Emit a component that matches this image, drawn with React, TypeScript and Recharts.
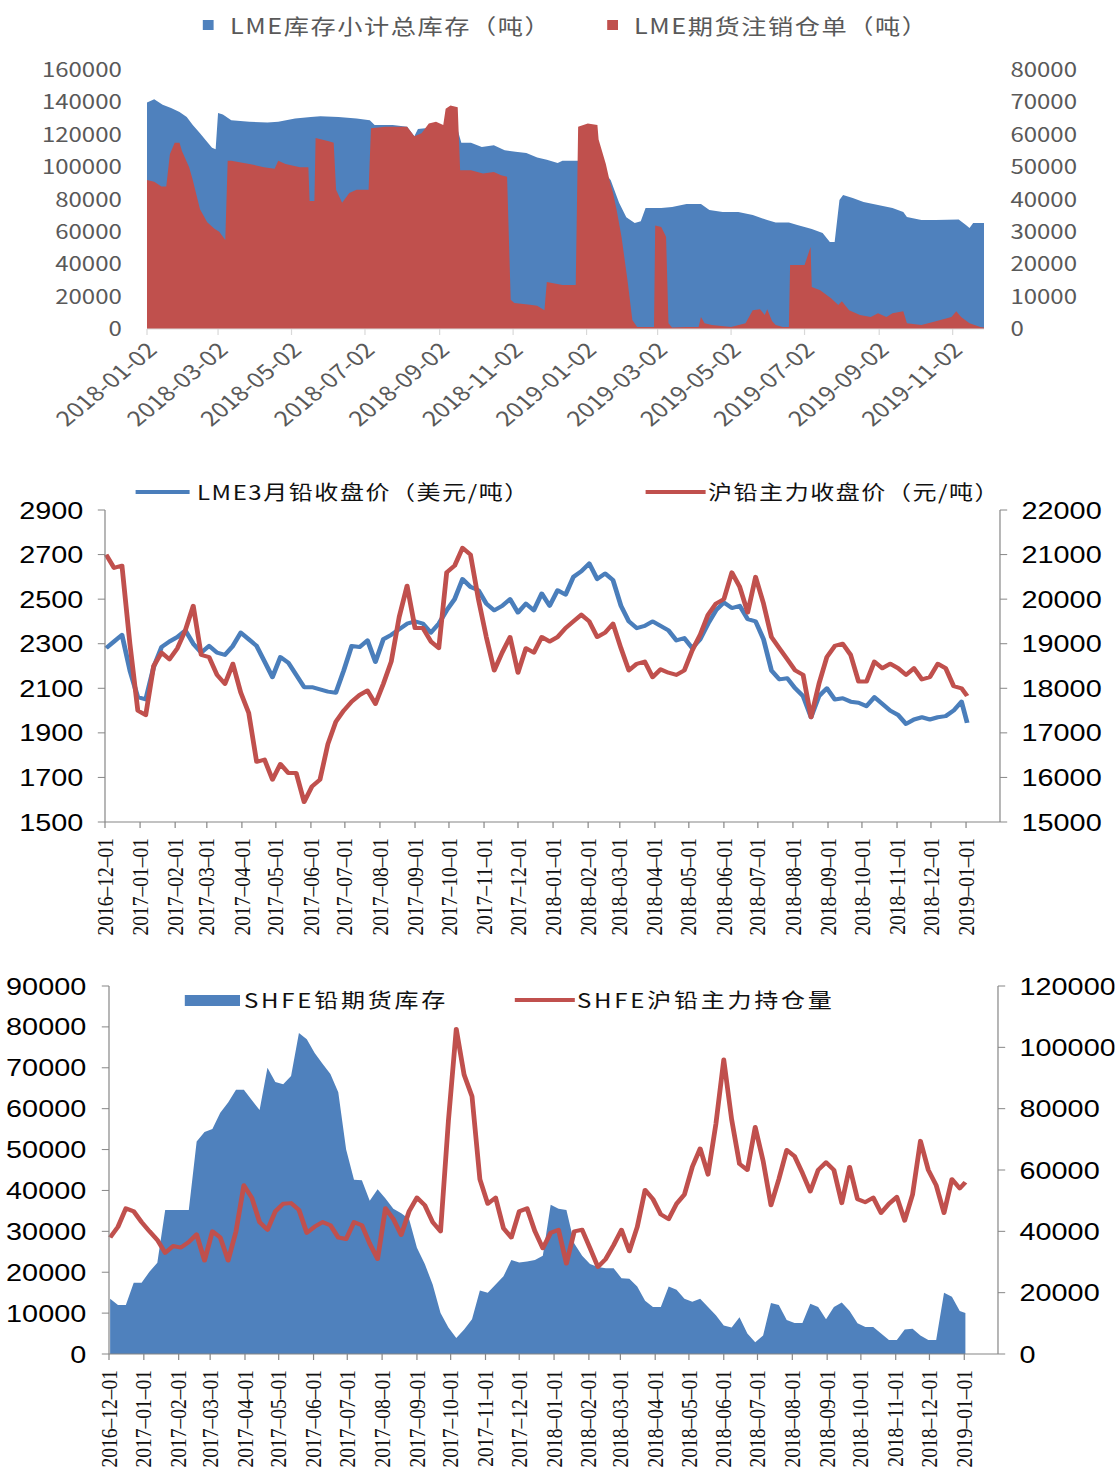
import React from 'react';
import { ComposedChart, Area, Line, XAxis, YAxis } from 'recharts';

// horizontal stretch of the reference picture
const S = 1.2;
const W = 1115 / S;
const toT = (d: string) => Date.parse(d + 'T00:00:00Z');

// ---------------- Chart 1: LME stocks ----------------
const chart1Names = ['LME库存小计总库存（吨）', 'LME期货注销仓单（吨）'];
const lmeStockDates = [
  '2018-01-02','2018-01-08','2018-01-15','2018-01-22','2018-01-29','2018-02-04','2018-02-09','2018-02-15','2018-02-21','2018-02-25',
  '2018-02-28','2018-03-02','2018-03-06','2018-03-13','2018-03-28','2018-04-12','2018-04-21','2018-05-05','2018-05-18','2018-05-26',
  '2018-06-10','2018-06-25','2018-07-06','2018-07-10','2018-07-25','2018-08-06','2018-08-12','2018-08-15','2018-08-21','2018-09-17',
  '2018-09-20','2018-09-28','2018-10-07','2018-10-17','2018-10-26','2018-11-04','2018-11-13','2018-11-22','2018-11-30','2018-12-09',
  '2018-12-13','2018-12-26','2019-01-14','2019-01-22','2019-01-29','2019-02-04','2019-02-11','2019-02-16','2019-02-20','2019-03-05',
  '2019-03-14','2019-03-26','2019-04-07','2019-04-14','2019-04-25','2019-05-08','2019-05-20','2019-06-01','2019-06-08','2019-06-19',
  '2019-06-26','2019-07-08','2019-07-17','2019-07-23','2019-07-27','2019-07-31','2019-08-03','2019-08-11','2019-08-20','2019-09-01',
  '2019-09-13','2019-09-22','2019-09-25','2019-10-07','2019-10-19','2019-11-07','2019-11-13','2019-11-16','2019-11-19','2019-11-28',
];
const lmeStockValues = [
  140000,142000,138500,136500,134000,131000,126000,121000,115500,112000,
  111000,133500,132500,129000,128000,127500,128000,130000,131000,131500,
  131000,130000,129000,126000,126000,125000,119000,123500,124000,123000,
  115000,115000,112500,113500,110500,109500,108700,106000,104500,102500,
  104000,104000,99000,92000,78000,69000,65500,66500,74700,74700,
  75400,77200,77200,73500,72300,72300,70400,67300,65800,65800,
  64300,61800,59300,53700,53700,79700,82800,81000,78500,76600,
  74700,72300,69200,67300,67300,67600,64300,62400,65500,65500,
];
const lmeCancelDates = [
  '2018-01-02','2018-01-08','2018-01-14','2018-01-18','2018-01-21','2018-01-25','2018-01-29','2018-01-31','2018-02-06','2018-02-09',
  '2018-02-11','2018-02-15','2018-02-21','2018-02-27','2018-03-03','2018-03-08','2018-03-10','2018-03-13','2018-03-28','2018-04-09',
  '2018-04-18','2018-04-21','2018-04-27','2018-05-09','2018-05-16','2018-05-17','2018-05-21','2018-05-22','2018-06-02','2018-06-06',
  '2018-06-08','2018-06-13','2018-06-19','2018-06-25','2018-07-05','2018-07-07','2018-07-19','2018-07-31','2018-08-06','2018-08-12',
  '2018-08-18','2018-08-24','2018-08-30','2018-09-05','2018-09-07','2018-09-11','2018-09-17','2018-09-19','2018-09-28','2018-10-08',
  '2018-10-17','2018-10-23','2018-10-28','2018-10-31','2018-11-03','2018-11-16','2018-11-22','2018-11-28','2018-11-30','2018-12-13',
  '2018-12-24','2018-12-26','2019-01-03','2019-01-11','2019-01-12','2019-01-18','2019-01-21','2019-01-24','2019-01-27','2019-01-31',
  '2019-02-05','2019-02-09','2019-02-13','2019-02-27','2019-02-28','2019-03-05','2019-03-09','2019-03-11','2019-03-14','2019-03-26',
  '2019-04-05','2019-04-07','2019-04-10','2019-04-16','2019-05-02','2019-05-14','2019-05-20','2019-05-26','2019-05-30','2019-06-01',
  '2019-06-05','2019-06-08','2019-06-14','2019-06-19','2019-06-20','2019-07-02','2019-07-07','2019-07-08','2019-07-15','2019-07-24',
  '2019-07-30','2019-08-02','2019-08-08','2019-08-17','2019-08-26','2019-09-01','2019-09-08','2019-09-13','2019-09-22','2019-09-25',
  '2019-10-07','2019-10-19','2019-11-01','2019-11-05','2019-11-09','2019-11-16','2019-11-25','2019-11-28',
];
const lmeCancelValues = [
  46000,45500,44000,44000,54000,57500,57500,55000,50000,46000,
  43000,37000,33000,31000,30000,27500,52000,52000,51000,50000,
  49500,52000,51000,50000,50000,39500,39500,59000,58000,57500,
  43000,39000,42000,43000,43000,62000,62500,62500,62500,59500,
  60500,63500,64000,63000,68000,69000,68500,49000,49000,48000,
  48500,47500,47000,9000,8000,7500,7200,5800,14500,13600,
  13600,62500,63500,63000,58500,51000,46000,42000,36700,28500,
  15000,2800,600,600,32000,31500,28500,1800,500,600,
  600,3700,1800,1200,600,1800,5800,6100,4300,6100,
  2500,1200,600,600,19800,19800,25300,13000,12000,9500,
  7400,8600,5800,4300,3700,4900,3700,4900,5500,1800,
  1200,2400,3700,5500,3700,1800,600,500,
];
const chart1Ticks = ['2018-01-02','2018-03-02','2018-05-02','2018-07-02','2018-09-02','2018-11-02','2019-01-02','2019-03-02','2019-05-02','2019-07-02','2019-09-02','2019-11-02'];
const chart1LeftTicks = [0, 20000, 40000, 60000, 80000, 100000, 120000, 140000, 160000];
const chart1RightTicks = [0, 10000, 20000, 30000, 40000, 50000, 60000, 70000, 80000];

// ---------------- Charts 2 & 3: weekly series ----------------
const weekDates = [
  '2016-12-02','2016-12-09','2016-12-16','2016-12-23','2016-12-30',
  '2017-01-06','2017-01-13','2017-01-20','2017-01-27','2017-02-03','2017-02-10','2017-02-17','2017-02-24',
  '2017-03-03','2017-03-10','2017-03-17','2017-03-24','2017-03-31','2017-04-07','2017-04-14','2017-04-21','2017-04-28',
  '2017-05-05','2017-05-12','2017-05-19','2017-05-26','2017-06-02','2017-06-09','2017-06-16','2017-06-23','2017-06-30',
  '2017-07-07','2017-07-14','2017-07-21','2017-07-28','2017-08-04','2017-08-11','2017-08-18','2017-08-25',
  '2017-09-01','2017-09-08','2017-09-15','2017-09-22','2017-09-29','2017-10-06','2017-10-13','2017-10-20','2017-10-27',
  '2017-11-03','2017-11-10','2017-11-17','2017-11-24','2017-12-01','2017-12-08','2017-12-15','2017-12-22','2017-12-29',
  '2018-01-05','2018-01-12','2018-01-19','2018-01-26','2018-02-02','2018-02-09','2018-02-16','2018-02-23',
  '2018-03-02','2018-03-09','2018-03-16','2018-03-23','2018-03-30','2018-04-06','2018-04-13','2018-04-20','2018-04-27',
  '2018-05-04','2018-05-11','2018-05-18','2018-05-25','2018-06-01','2018-06-08','2018-06-15','2018-06-22','2018-06-29',
  '2018-07-06','2018-07-13','2018-07-20','2018-07-27','2018-08-03','2018-08-10','2018-08-17','2018-08-24','2018-08-31',
  '2018-09-07','2018-09-14','2018-09-21','2018-09-28','2018-10-05','2018-10-12','2018-10-19','2018-10-26',
  '2018-11-02','2018-11-09','2018-11-16','2018-11-23','2018-11-30','2018-12-07','2018-12-14','2018-12-21','2018-12-28',
  '2019-01-02',
];
const chart2Names = ['LME3月铅收盘价（美元/吨）', '沪铅主力收盘价（元/吨）'];
const lme3Close = [
  2280,2310,2340,2180,2060,2050,2195,2285,2310,2330,
  2360,2300,2260,2290,2260,2250,2290,2350,2320,2290,
  2220,2150,2240,2215,2160,2105,2105,2095,2085,2080,
  2180,2290,2285,2315,2218,2320,2340,2365,2390,2400,
  2390,2350,2390,2450,2500,2590,2555,2540,2480,2450,
  2470,2500,2440,2480,2450,2525,2470,2540,2520,2600,
  2625,2660,2590,2615,2585,2470,2400,2370,2380,2400,
  2380,2360,2315,2325,2280,2320,2390,2450,2485,2460,
  2470,2410,2400,2320,2180,2140,2145,2100,2065,1970,
  2065,2100,2050,2055,2040,2035,2020,2060,2030,2000,
  1980,1940,1960,1970,1960,1970,1975,2000,2040,1945,
];
const shfeClose = [
  21000,20700,20750,19000,17500,17400,18500,18800,18650,18900,
  19300,19850,18750,18700,18300,18100,18550,17900,17450,16350,
  16400,15950,16300,16100,16100,15450,15800,15950,16750,17250,
  17500,17700,17850,17950,17650,18100,18600,19600,20300,19350,
  19350,19050,18900,20600,20750,21150,21000,20000,19150,18400,
  18800,19150,18350,18900,18800,19150,19050,19150,19350,19500,
  19650,19500,19150,19250,19450,18900,18400,18550,18600,18250,
  18425,18350,18300,18400,18850,19200,19650,19900,20000,20600,
  20275,19700,20500,19900,19150,18900,18650,18400,18300,17350,
  18100,18700,18950,19000,18750,18150,18150,18600,18450,18550,
  18450,18300,18450,18200,18250,18550,18450,18050,18000,17825,
];
const chart2LeftTicks = [1500, 1700, 1900, 2100, 2300, 2500, 2700, 2900];
const chart2RightTicks = [15000, 16000, 17000, 18000, 19000, 20000, 21000, 22000];

const chart3Names = ['SHFE铅期货库存', 'SHFE沪铅主力持仓量'];
const shfeStock = [
  13500,12000,12000,17400,17400,20100,22300,35200,35200,35200,
  35200,52000,54300,55000,59000,61500,64600,64600,62100,59700,
  70000,66500,66000,68000,78500,77000,73600,71000,68500,64000,
  50000,42600,42500,37500,40300,38000,35500,34400,33000,26000,
  22000,17000,10000,6500,3900,6000,8500,15500,15000,17000,
  19000,23000,22400,22600,23000,24000,36500,35500,35200,27000,
  24000,22000,21300,21000,21000,18500,18400,16500,13000,11500,
  11500,16500,15700,13500,12800,13500,11500,9500,7000,6500,
  9000,5000,2900,4500,12500,12000,8300,7600,7600,12300,
  11500,8500,11500,12600,10500,7500,6600,6600,5000,3400,
  3400,6000,6200,4500,3400,3400,15000,14000,10500,10000,
];
const shfeOpenInterest = [
  38000,41500,47500,46500,43000,40000,37200,33000,35200,34700,
  36500,39000,30500,40000,38000,30500,40000,55000,51000,43000,
  40500,46500,49000,49200,47000,39500,41500,43000,42000,38000,
  37500,43000,42000,36000,31000,47500,44000,38800,46500,51000,
  48500,43000,40000,76000,106000,91000,84000,57000,49000,51000,
  41000,38000,46500,47500,40000,34500,39500,40500,29500,40000,
  40500,34500,28400,31000,35500,40500,33500,41400,53500,50500,
  45500,44000,49000,52000,61000,67000,58500,75000,96000,76500,
  62000,60000,74000,63000,48500,57000,66500,64500,59000,53000,
  60000,62500,60000,49200,61000,50500,49500,51000,46000,49000,
  51200,43500,52000,69500,60000,55000,46000,57000,54000,56000,
];
const chart3LeftTicks = [0, 10000, 20000, 30000, 40000, 50000, 60000, 70000, 80000, 90000];
const chart3RightTicks = [0, 20000, 40000, 60000, 80000, 100000, 120000];

const monthTicks = [
  '2016-12-01','2017-01-01','2017-02-01','2017-03-01','2017-04-01','2017-05-01','2017-06-01','2017-07-01','2017-08-01',
  '2017-09-01','2017-10-01','2017-11-01','2017-12-01','2018-01-01','2018-02-01','2018-03-01','2018-04-01','2018-05-01',
  '2018-06-01','2018-07-01','2018-08-01','2018-09-01','2018-10-01','2018-11-01','2018-12-01','2019-01-01',
];

// ---------------- colours ----------------
const BLUE = '#4f81bd';
const RED = '#c0504d';
const AXIS = '#868686';

// ---------------- data tables ----------------
const c1map = new Map<number, any>();
lmeStockDates.forEach((d, i) => {
  const t = toT(d);
  c1map.set(t, { ...(c1map.get(t) || { t }), stock: lmeStockValues[i] });
});
lmeCancelDates.forEach((d, i) => {
  const t = toT(d);
  c1map.set(t, { ...(c1map.get(t) || { t }), cancel: lmeCancelValues[i] });
});
const chart1Data = Array.from(c1map.values()).sort((a, b) => a.t - b.t);
const chart2Data = weekDates.map((d, i) => ({ t: toT(d), lme: lme3Close[i], shfe: shfeClose[i] }));
const chart3Data = weekDates.map((d, i) => ({ t: toT(d), stock: shfeStock[i], oi: shfeOpenInterest[i] }));

const labelFor = (labels: string[], v: number) => labels.find((l) => toT(l) === v) || '';

const TickDiag = (p: any) => {
  const { x, y, payload } = p;
  const ax = x + 3;
  return (
    <text x={ax} y={y} transform={`rotate(-45 ${ax} ${y})`} textAnchor="end" dominantBaseline="central"
      fontSize={21} fill="#595959" fontFamily="'Noto Sans CJK SC', 'Noto Sans', sans-serif">
      {labelFor(chart1Ticks, payload.value)}
    </text>
  );
};

const TickVert = (p: any) => {
  const { x, y, payload } = p;
  const txt = labelFor(monthTicks, payload.value).replace(/-/g, '–');
  return (
    <text x={x} y={y} transform={`rotate(-90 ${x} ${y})`} textAnchor="end" dominantBaseline="central"
      fontSize={19.5} fill="#111" fontFamily="'Liberation Serif', serif">
      {txt}
    </text>
  );
};

const Swatch = ({ x1, x2, cy, h, color }: any) => (
  <div style={{ position: 'absolute', left: x1 / S, top: cy - h / 2, width: (x2 - x1) / S, height: h, background: color }} />
);
const LegendText = ({ x, cy, text, size, color, ls }: any) => (
  <div style={{ position: 'absolute', left: x / S, top: cy - 20, height: 40, lineHeight: '40px', fontSize: size, color,
    letterSpacing: ls, whiteSpace: 'nowrap', fontFamily: "'Noto Sans CJK SC', 'Noto Sans', sans-serif" }}>{text}</div>
);

const sansTick = (size: number, fill: string) => ({ fontSize: size, fill, fontFamily: "'Liberation Sans', Arial, sans-serif" });
const cjkTick = { fontSize: 20, fill: '#595959', fontFamily: "'Noto Sans CJK SC', 'Noto Sans', sans-serif" };

const Chart1 = () => (
  <ComposedChart width={W} height={445} data={chart1Data} margin={{ top: 70, right: 0, bottom: 0, left: 0 }}>
    <XAxis dataKey="t" type="number" domain={[toT('2018-01-02'), toT('2019-11-28')]} ticks={chart1Ticks.map(toT)}
      interval={0} height={116} axisLine={{ stroke: '#d9d9d9' }} tickLine={{ stroke: '#d9d9d9' }} tickSize={6} tickMargin={10}
      tick={(p: any) => <TickDiag {...p} />} />
    <YAxis yAxisId="left" domain={[0, 160000]} ticks={chart1LeftTicks} interval={0} width={147 / S}
      axisLine={false} tickLine={false} tickSize={0} tickMargin={21} tick={cjkTick} />
    <YAxis yAxisId="right" orientation="right" domain={[0, 80000]} ticks={chart1RightTicks} interval={0} width={W - 984 / S}
      axisLine={false} tickLine={false} tickSize={0} tickMargin={22} tick={cjkTick} />
    <Area yAxisId="left" dataKey="stock" type="linear" fill={BLUE} fillOpacity={1} stroke="none" connectNulls
      isAnimationActive={false} dot={false} activeDot={false} />
    <Area yAxisId="right" dataKey="cancel" type="linear" fill={RED} fillOpacity={1} stroke="none" connectNulls
      isAnimationActive={false} dot={false} activeDot={false} />
  </ComposedChart>
);

const Chart2 = () => (
  <ComposedChart width={W} height={505} data={chart2Data} margin={{ top: 60, right: 0, bottom: 0, left: 0 }}>
    <XAxis dataKey="t" type="number" domain={[toT('2016-12-01'), toT('2019-01-31')]} ticks={monthTicks.map(toT)}
      interval={0} height={133} axisLine={{ stroke: AXIS }} tickLine={{ stroke: AXIS }} tickSize={6} tickMargin={10}
      tick={(p: any) => <TickVert {...p} />} />
    <YAxis yAxisId="left" domain={[1500, 2900]} ticks={chart2LeftTicks} interval={0} width={105 / S}
      axisLine={{ stroke: AXIS }} tickLine={{ stroke: AXIS }} tickSize={6} tickMargin={12} tick={sansTick(24, '#000')} />
    <YAxis yAxisId="right" orientation="right" domain={[15000, 22000]} ticks={chart2RightTicks} interval={0} width={W - 1000 / S}
      axisLine={{ stroke: AXIS }} tickLine={{ stroke: AXIS }} tickSize={6} tickMargin={12} tick={sansTick(24, '#000')} />
    <Line yAxisId="left" dataKey="lme" type="linear" stroke="#4a7ebb" strokeWidth={4} dot={false} activeDot={false}
      isAnimationActive={false} strokeLinejoin="round" />
    <Line yAxisId="right" dataKey="shfe" type="linear" stroke={RED} strokeWidth={4} dot={false} activeDot={false}
      isAnimationActive={false} strokeLinejoin="round" />
  </ComposedChart>
);

const Chart3 = () => (
  <ComposedChart width={W} height={514} data={chart3Data} margin={{ top: 31, right: 0, bottom: 0, left: 0 }}>
    <XAxis dataKey="t" type="number" domain={[toT('2016-12-01'), toT('2019-01-31')]} ticks={monthTicks.map(toT)}
      interval={0} height={115} axisLine={{ stroke: AXIS }} tickLine={{ stroke: AXIS }} tickSize={6} tickMargin={10}
      tick={(p: any) => <TickVert {...p} />} />
    <YAxis yAxisId="left" domain={[0, 90000]} ticks={chart3LeftTicks} interval={0} width={109 / S}
      axisLine={{ stroke: AXIS }} tickLine={{ stroke: AXIS }} tickSize={6} tickMargin={13} tick={sansTick(24, '#000')} />
    <YAxis yAxisId="right" orientation="right" domain={[0, 120000]} ticks={chart3RightTicks} interval={0} width={W - 998 / S}
      axisLine={{ stroke: AXIS }} tickLine={{ stroke: AXIS }} tickSize={6} tickMargin={12} tick={sansTick(24, '#000')} />
    <Area yAxisId="left" dataKey="stock" type="linear" fill={BLUE} fillOpacity={1} stroke="none"
      isAnimationActive={false} dot={false} activeDot={false} />
    <Line yAxisId="right" dataKey="oi" type="linear" stroke={RED} strokeWidth={4} dot={false} activeDot={false}
      isAnimationActive={false} strokeLinejoin="round" />
  </ComposedChart>
);

export default function App() {
  return (
    <div style={{ position: 'absolute', left: 0, top: 0, width: W, height: 1469, background: '#fff',
      transform: `scaleX(${S})`, transformOrigin: '0 0', overflow: 'hidden' }}>
      <div style={{ position: 'absolute', left: 0, top: 0 }}><Chart1 /></div>
      <div style={{ position: 'absolute', left: 0, top: 450 }}><Chart2 /></div>
      <div style={{ position: 'absolute', left: 0, top: 955 }}><Chart3 /></div>

      <Swatch x1={203} x2={214} cy={25} h={10} color={BLUE} />
      <LegendText x={230} cy={25} text={chart1Names[0]} size={21} color="#595959" ls={1.3} />
      <Swatch x1={607} x2={618} cy={25} h={10} color={RED} />
      <LegendText x={634} cy={25} text={chart1Names[1]} size={21} color="#595959" ls={1.3} />

      <Swatch x1={135} x2={190} cy={492} h={4} color="#4a7ebb" />
      <LegendText x={197} cy={492} text={chart2Names[0]} size={20} color="#111" ls={1.3} />
      <Swatch x1={645} x2={705} cy={492} h={4} color={RED} />
      <LegendText x={708} cy={492} text={chart2Names[1]} size={20} color="#111" ls={1.3} />

      <Swatch x1={185} x2={240} cy={1000} h={11} color={BLUE} />
      <LegendText x={244} cy={1000} text={chart3Names[0]} size={20} color="#111" ls={2.3} />
      <Swatch x1={515} x2={575} cy={1000} h={4} color={RED} />
      <LegendText x={577} cy={1000} text={chart3Names[1]} size={20} color="#111" ls={2.3} />
    </div>
  );
}
